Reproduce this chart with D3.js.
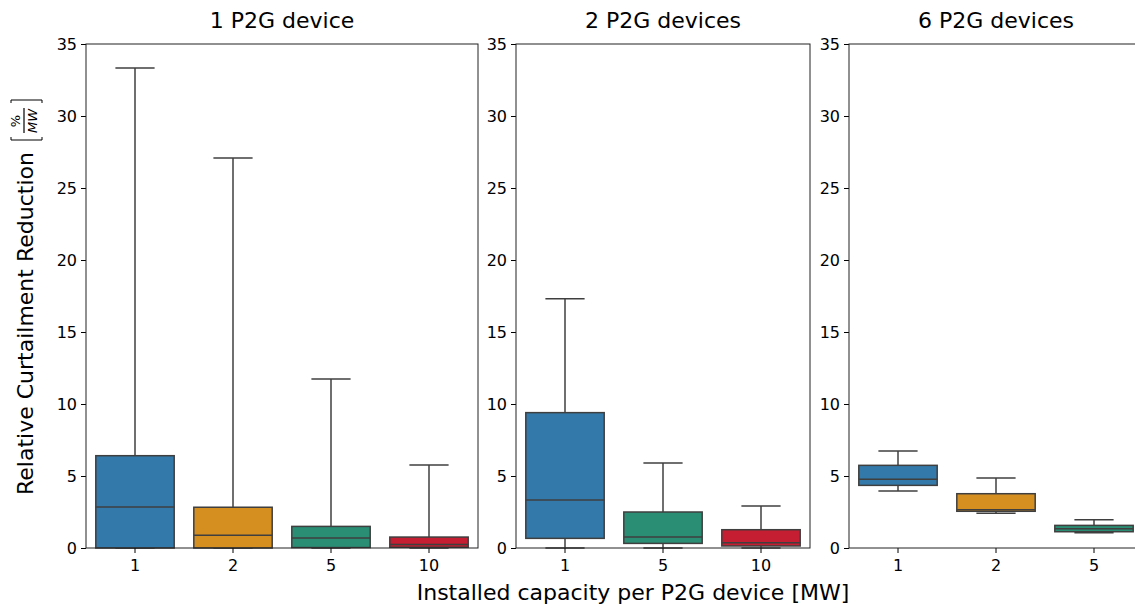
<!DOCTYPE html>
<html>
<head>
<meta charset="utf-8">
<script src="https://cdn.jsdelivr.net/npm/d3@7"></script>
<style>
  body { margin: 0; background: #fff; }
  text { font-family: "DejaVu Sans", sans-serif; fill: #000; }
</style>
</head>
<body>
<svg id="chart" width="1135" height="605"></svg>
<script>
// panel titles and categories (installed capacity per device, MW)
var titles = ["1 P2G device", "2 P2G devices", "6 P2G devices"];
var cats1 = ["1", "2", "5", "10"];
var cats2 = ["1", "5", "10"];
var cats3 = ["1", "2", "5"];

// box stats per panel: lower whisker, q1, median, q3, upper whisker
var low1 = [0, 0, 0, 0];
var q1_1 = [0, 0, 0.03, 0.05];
var med1 = [2.85, 0.88, 0.69, 0.25];
var q3_1 = [6.41, 2.83, 1.5, 0.76];
var high1 = [33.33, 27.08, 11.74, 5.76];

var low2 = [0, 0, 0];
var q1_2 = [0.67, 0.32, 0.14];
var med2 = [3.33, 0.76, 0.37];
var q3_2 = [9.4, 2.5, 1.27];
var high2 = [17.31, 5.9, 2.92];

var low3 = [3.96, 2.41, 1.06];
var q1_3 = [4.35, 2.55, 1.13];
var med3 = [4.77, 2.66, 1.34];
var q3_3 = [5.74, 3.77, 1.57];
var high3 = [6.74, 4.86, 1.97];

var yTicks = [0, 5, 10, 15, 20, 25, 30, 35];
var colorOf = {"1": "#3379aa", "2": "#d58e20", "5": "#298e74", "10": "#c51d31"};

var panels = [
  {title: titles[0], cats: cats1, low: low1, q1: q1_1, med: med1, q3: q3_1, high: high1, x0: 86},
  {title: titles[1], cats: cats2, low: low2, q1: q1_2, med: med2, q3: q3_2, high: high2, x0: 516},
  {title: titles[2], cats: cats3, low: low3, q1: q1_3, med: med3, q3: q3_3, high: high3, x0: 849}
];

var svg = d3.select("#chart");
var plotTop = 44, plotBottom = 548, step = 98;
var edge = "#3f3f3f";

var y = d3.scaleLinear().domain([0, 35]).range([plotBottom, plotTop]);

panels.forEach(function(p) {
  var w = step * p.cats.length;
  var x = d3.scaleBand().domain(p.cats).range([p.x0, p.x0 + w]).paddingInner(0.2).paddingOuter(0.1);
  var g = svg.append("g");

  var rows = p.cats.map(function(c, i) {
    return {cat: c, low: p.low[i], q1: p.q1[i], med: p.med[i], q3: p.q3[i], high: p.high[i]};
  });

  var bw = x.bandwidth();
  var box = g.selectAll(".box").data(rows).enter().append("g").attr("class", "box");

  // whiskers
  box.append("line")
    .attr("x1", d => x(d.cat) + bw / 2).attr("x2", d => x(d.cat) + bw / 2)
    .attr("y1", d => y(d.q3)).attr("y2", d => y(d.high))
    .attr("stroke", edge).attr("stroke-width", 1.5);
  box.append("line")
    .attr("x1", d => x(d.cat) + bw / 2).attr("x2", d => x(d.cat) + bw / 2)
    .attr("y1", d => y(d.q1)).attr("y2", d => y(d.low))
    .attr("stroke", edge).attr("stroke-width", 1.5);
  // caps
  box.append("line")
    .attr("x1", d => x(d.cat) + bw / 4).attr("x2", d => x(d.cat) + bw * 3 / 4)
    .attr("y1", d => y(d.high)).attr("y2", d => y(d.high))
    .attr("stroke", edge).attr("stroke-width", 1.5);
  box.append("line")
    .attr("x1", d => x(d.cat) + bw / 4).attr("x2", d => x(d.cat) + bw * 3 / 4)
    .attr("y1", d => y(d.low)).attr("y2", d => y(d.low))
    .attr("stroke", edge).attr("stroke-width", 1.5);
  // box
  box.append("rect")
    .attr("x", d => x(d.cat)).attr("width", bw)
    .attr("y", d => y(d.q3)).attr("height", d => Math.max(0.5, y(d.q1) - y(d.q3)))
    .attr("fill", d => colorOf[d.cat])
    .attr("stroke", edge).attr("stroke-width", 1.5);
  // median
  box.append("line")
    .attr("x1", d => x(d.cat)).attr("x2", d => x(d.cat) + bw)
    .attr("y1", d => y(d.med)).attr("y2", d => y(d.med))
    .attr("stroke", edge).attr("stroke-width", 1.5);

  // axes
  var yAxis = d3.axisLeft(y).tickValues(yTicks).tickSize(5).tickPadding(4);
  var ya = g.append("g").attr("transform", "translate(" + p.x0 + ",0)").call(yAxis);
  var xAxis = d3.axisBottom(x).tickSize(5).tickPadding(4);
  var xa = g.append("g").attr("transform", "translate(0," + plotBottom + ")").call(xAxis);
  [ya, xa].forEach(function(a) {
    a.attr("font-size", 16);
    a.select(".domain").remove();
    a.selectAll("line").attr("stroke", "#000").attr("stroke-width", 1);
    a.selectAll("text").style("font-size", "16px").attr("fill", "#000");
  });
  xa.selectAll("text").attr("dy", "0.9em");

  // frame
  g.append("rect")
    .attr("x", p.x0).attr("y", plotTop).attr("width", w).attr("height", plotBottom - plotTop)
    .attr("fill", "none").attr("stroke", "#222").attr("stroke-width", 1);

  g.append("text")
    .attr("x", p.x0 + w / 2).attr("y", 28)
    .attr("text-anchor", "middle").style("font-size", "22px")
    .text(p.title);
});

// x label
svg.append("text")
  .attr("x", 633).attr("y", 600)
  .attr("text-anchor", "middle").style("font-size", "22px")
  .text("Installed capacity per P2G device [MW]");

// y label with [%/MW] fraction
var yl = svg.append("g").attr("transform", "translate(33,495) rotate(-90)");
yl.append("text").attr("x", 0).attr("y", 0).style("font-size", "22px")
  .text("Relative Curtailment Reduction");
yl.append("path")
  .attr("d", "M358,-22 H355 V9 H358 M392,-22 H395 V9 H392")
  .attr("fill", "none").attr("stroke", "#000").attr("stroke-width", 1);
yl.append("text").attr("x", 374).attr("y", -13).attr("text-anchor", "middle")
  .style("font-size", "13px").text("%");
yl.append("line").attr("x1", 362).attr("x2", 387).attr("y1", -9).attr("y2", -9)
  .attr("stroke", "#000").attr("stroke-width", 1.2);
yl.append("text").attr("x", 374).attr("y", 4).attr("text-anchor", "middle")
  .style("font-size", "13px").style("font-style", "italic").text("MW");
</script>
</body>
</html>
